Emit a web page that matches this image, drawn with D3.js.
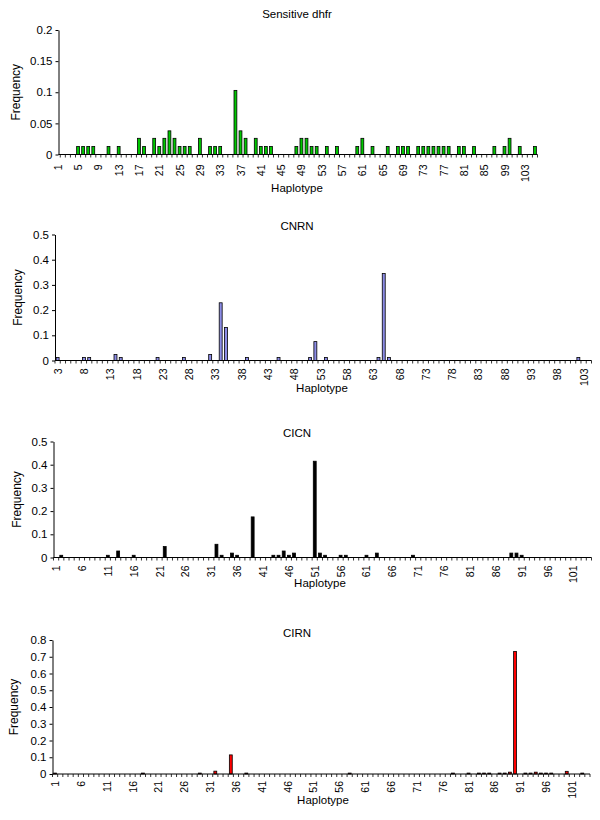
<!DOCTYPE html>
<html>
<head>
<meta charset="utf-8">
<script src="https://cdnjs.cloudflare.com/ajax/libs/d3/7.8.5/d3.min.js"></script>
<style>
body { margin: 0; background: #fff; }
text { font-family: "Liberation Sans", Arial, sans-serif; fill: #000; }
</style>
</head>
<body>
<div id="chart"></div>
<script>
// Sensitive dhfr
var sensCats = d3.range(1, 89).concat(d3.range(99, 106));
var sensTicks = [1, 5, 9, 13, 17, 21, 25, 29, 33, 37, 41, 45, 49, 53, 57, 61, 65, 69, 73, 77, 81, 85, 99, 103];
var sensYTicks = [0, 0.05, 0.1, 0.15, 0.2];
var sensHaplo = [5, 6, 7, 8, 11, 13, 17, 18, 20, 21, 22, 23, 24, 25, 26, 27, 29, 31, 32, 33, 36, 37, 38, 40, 41, 42, 43,
                 48, 49, 50, 51, 52, 54, 56, 60, 61, 63, 66, 68, 69, 70, 72, 73, 74, 75, 76, 77, 78, 80, 81, 83, 87,
                 99, 100, 102, 105];
var sensFreq = [0.013, 0.013, 0.013, 0.013, 0.013, 0.013, 0.026, 0.013, 0.026, 0.013, 0.026, 0.038, 0.026, 0.013, 0.013,
                0.013, 0.026, 0.013, 0.013, 0.013, 0.103, 0.038, 0.026, 0.026, 0.013, 0.013, 0.013,
                0.013, 0.026, 0.026, 0.013, 0.013, 0.013, 0.013, 0.013, 0.026, 0.013, 0.013, 0.013, 0.013, 0.013, 0.013,
                0.013, 0.013, 0.013, 0.013, 0.013, 0.013, 0.013, 0.013, 0.013, 0.013,
                0.013, 0.026, 0.013, 0.013];

// CNRN
var cnrnCats = d3.range(3, 105);
var cnrnTicks = [3, 8, 13, 18, 23, 28, 33, 38, 43, 48, 53, 58, 63, 68, 73, 78, 83, 88, 93, 98, 103];
var cnrnYTicks = [0, 0.1, 0.2, 0.3, 0.4, 0.5];
var cnrnHaplo = [3, 8, 9, 14, 15, 22, 27, 32, 34, 35, 39, 45, 51, 52, 54, 64, 65, 66, 102];
var cnrnFreq = [0.012, 0.012, 0.012, 0.024, 0.012, 0.012, 0.012, 0.024, 0.229, 0.131, 0.012, 0.012, 0.012, 0.075,
                0.012, 0.012, 0.345, 0.012, 0.012];

// CICN
var cicnCats = d3.range(1, 105);
var cicnTicks = [1, 6, 11, 16, 21, 26, 31, 36, 41, 46, 51, 56, 61, 66, 71, 76, 81, 86, 91, 96, 101];
var cicnYTicks = [0, 0.1, 0.2, 0.3, 0.4, 0.5];
var cicnHaplo = [2, 11, 13, 16, 22, 32, 33, 35, 36, 39, 43, 44, 45, 46, 47, 51, 52, 53, 56, 57, 61, 63, 70, 89, 90, 91];
var cicnFreq = [0.0096, 0.0096, 0.028, 0.0096, 0.047, 0.057, 0.0096, 0.019, 0.0096, 0.175, 0.0096, 0.0096, 0.028,
                0.0096, 0.019, 0.415, 0.019, 0.0096, 0.0096, 0.0096, 0.0096, 0.019, 0.0096, 0.019, 0.019, 0.0096];

// CIRN
var cirnCats = d3.range(1, 105);
var cirnTicks = [1, 6, 11, 16, 21, 26, 31, 36, 41, 46, 51, 56, 61, 66, 71, 76, 81, 86, 91, 96, 101];
var cirnYTicks = [0, 0.1, 0.2, 0.3, 0.4, 0.5, 0.6, 0.7, 0.8];
var cirnHaplo = [1, 18, 29, 32, 35, 38, 58, 78, 81, 83, 84, 85, 87, 88, 89, 90, 92, 93, 94, 95, 96, 97, 100, 103];
var cirnFreq = [0.0055, 0.0055, 0.0055, 0.017, 0.114, 0.0055, 0.0055, 0.0055, 0.0055, 0.0055, 0.0055, 0.0055,
                0.0055, 0.0055, 0.011, 0.732, 0.0055, 0.0055, 0.011, 0.0055, 0.0055, 0.0055, 0.016, 0.0055];

var svg = d3.select("#chart")
            .append("svg")
            .attr("width", 600)
            .attr("height", 820);

function drawPanel(p) {
  // scaleLeft lets the category bands start a little left of the drawn y axis (top panel)
  var x = d3.scaleBand().domain(p.cats).range([p.scaleLeft || p.left, p.right]);
  var y = d3.scaleLinear().domain([0, p.yTicks[p.yTicks.length - 1]]).range([p.bottom, p.top]);
  var bw = x.bandwidth();
  var g = svg.append("g");

  // bars
  g.selectAll("rect")
   .data(p.haplo)
   .enter()
   .append("rect")
      .attr("x", function(d) { return x(d) + bw * 0.22; })
      .attr("width", bw * 0.56)
      .attr("y", function(d, i) { return y(p.freq[i]); })
      .attr("height", function(d, i) { return p.bottom - y(p.freq[i]); })
      .attr("fill", p.fill)
      .attr("stroke", "#000")
      .attr("stroke-width", 0.8);

  // y axis
  var ya = g.append("g")
            .attr("transform", "translate(" + p.left + ",0)")
            .call(d3.axisLeft(y).tickValues(p.yTicks).tickSize(3).tickSizeOuter(0).tickPadding(3)
                    .tickFormat(function(d) { return String(d); }));
  ya.select(".domain").attr("stroke", "#000");
  ya.selectAll("line").attr("stroke", "#000");
  ya.selectAll("text").attr("font-size", "11.5px").attr("fill", "#000")
    .attr("font-family", "'Liberation Sans', Arial, sans-serif");

  // x axis line and category ticks at band edges
  g.append("line")
   .attr("x1", p.left).attr("x2", p.right)
   .attr("y1", p.bottom).attr("y2", p.bottom)
   .attr("stroke", "#000");
  var edges = p.cats.map(function(c) { return x(c); })
                    .concat([p.right])
                    .filter(function(v) { return v >= p.left - 0.5; });
  g.selectAll("line.edge")
   .data(edges)
   .enter()
   .append("line")
      .attr("class", "edge")
      .attr("x1", function(d) { return d; })
      .attr("x2", function(d) { return d; })
      .attr("y1", p.bottom)
      .attr("y2", p.bottom + 3)
      .attr("stroke", "#000")
      .attr("stroke-width", 0.8);

  // x tick labels, rotated
  g.selectAll("text.xlab")
   .data(p.ticks)
   .enter()
   .append("text")
      .attr("class", "xlab")
      .text(function(d) { return d; })
      .attr("transform", function(d) {
        return "translate(" + (x(d) + bw / 2) + "," + (p.bottom + p.labGap) + ") rotate(-90)";
      })
      .attr("text-anchor", "end")
      .attr("dominant-baseline", "central")
      .attr("font-size", "10.5px");

  // titles
  g.append("text")
   .text(p.title)
   .attr("x", 297)
   .attr("y", p.titleY)
   .attr("text-anchor", "middle")
   .attr("font-size", "11.5px");
  g.append("text")
   .text("Frequency")
   .attr("transform", "translate(" + p.yTitleX + "," + ((p.top + p.bottom) / 2) + ") rotate(-90)")
   .attr("text-anchor", "middle")
   .attr("dominant-baseline", "central")
   .attr("font-size", "12px");
  g.append("text")
   .text("Haplotype")
   .attr("x", p.xTitleX)
   .attr("y", p.xTitleY)
   .attr("text-anchor", "middle")
   .attr("font-size", "11.5px");
}

drawPanel({ cats: sensCats, ticks: sensTicks, yTicks: sensYTicks, haplo: sensHaplo, freq: sensFreq,
            fill: "#00c800", title: "Sensitive dhfr",
            left: 58.5, scaleLeft: 55.2, right: 537.5, top: 30, bottom: 154.5, labGap: 10,
            titleY: 18, yTitleX: 16, xTitleX: 297, xTitleY: 192 });
drawPanel({ cats: cnrnCats, ticks: cnrnTicks, yTicks: cnrnYTicks, haplo: cnrnHaplo, freq: cnrnFreq,
            fill: "#8c8ce6", title: "CNRN",
            left: 55, right: 591.5, top: 234.5, bottom: 360.5, labGap: 8,
            titleY: 230, yTitleX: 18, xTitleX: 322, xTitleY: 392 });
drawPanel({ cats: cicnCats, ticks: cicnTicks, yTicks: cicnYTicks, haplo: cicnHaplo, freq: cicnFreq,
            fill: "#000", title: "CICN",
            left: 53.5, right: 591.5, top: 441.5, bottom: 557.5, labGap: 8,
            titleY: 437, yTitleX: 17, xTitleX: 320, xTitleY: 587 });
drawPanel({ cats: cirnCats, ticks: cirnTicks, yTicks: cirnYTicks, haplo: cirnHaplo, freq: cirnFreq,
            fill: "#ff0000", title: "CIRN",
            left: 52.5, right: 590, top: 640, bottom: 774, labGap: 7,
            titleY: 637, yTitleX: 14, xTitleX: 323, xTitleY: 804 });
</script>
</body>
</html>
